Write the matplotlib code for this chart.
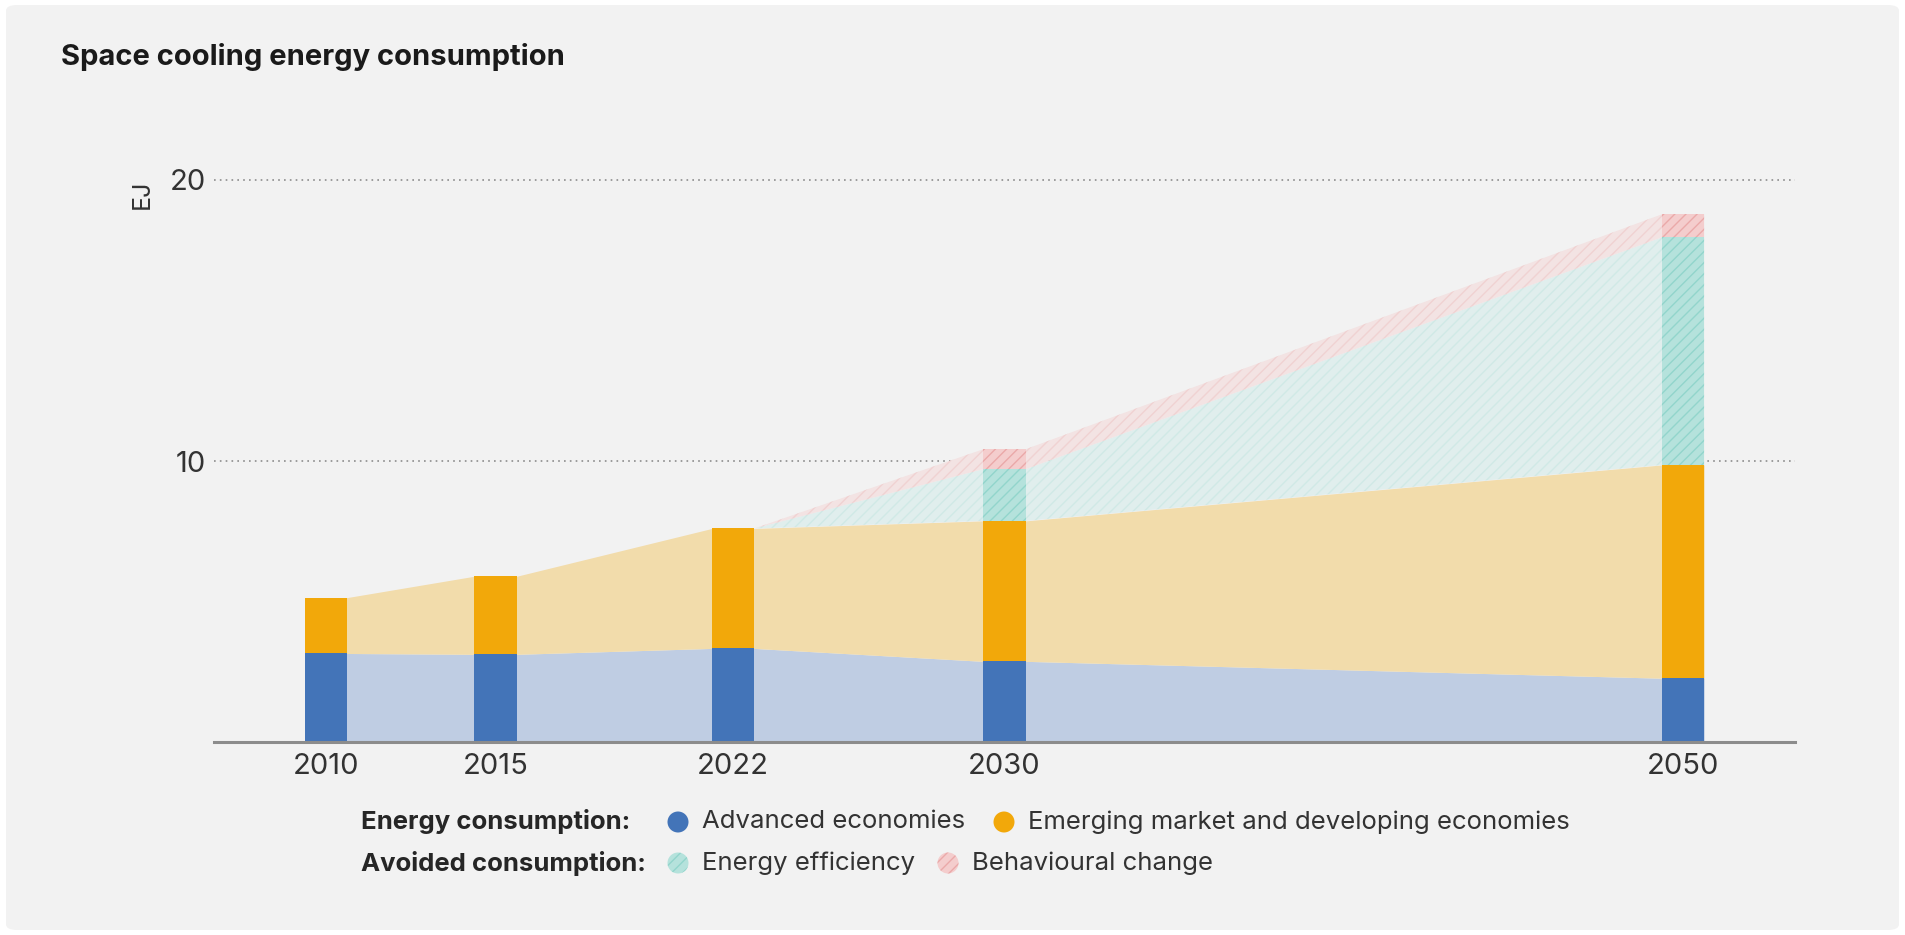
import matplotlib
matplotlib.use("Agg")
from matplotlib import pyplot
from matplotlib.patches import FancyBboxPatch, Circle
from matplotlib.transforms import IdentityTransform

years = [2010, 2015, 2022, 2030, 2050]
advanced = [3.15, 3.12, 3.33, 2.87, 2.27]
emerging = [1.99, 2.78, 4.27, 5.00, 7.59]
efficiency = [0.0, 0.0, 0.0, 1.84, 8.10]
behaviour = [0.0, 0.0, 0.0, 0.71, 0.82]
xtick_labels = ["2010", "2015", "2022", "2030", "2050"]
ytick_values = [10, 20]

FONT = ["Inter", "DejaVu Sans"]
pyplot.rcParams["font.family"] = FONT
pyplot.rcParams["hatch.linewidth"] = 1.0

W, H = 1906, 935
fig = pyplot.figure(figsize=(W / 100, H / 100), dpi=100, facecolor="white")
panel = FancyBboxPatch((6 / W, 5 / H), 1893 / W, 925 / H,
                       boxstyle="round,pad=0,rounding_size=0.006",
                       transform=fig.transFigure, facecolor="#f2f2f2",
                       edgecolor="none", zorder=0)
fig.add_artist(panel)

ax = fig.add_axes([214 / W, (H - 742) / H, (1795 - 214) / W, (742 - 180) / H])
ax.set_facecolor("none")

bw = 1.25
HATCH = "///"
adv_top = advanced
eme_top = [a + e for a, e in zip(advanced, emerging)]
eff_top = [t + f for t, f in zip(eme_top, efficiency)]
beh_top = [t + b for t, b in zip(eff_top, behaviour)]


def edges(vals, start=0):
    xs, ys = [], []
    for yr, v in zip(years[start:], vals[start:]):
        xs += [yr - bw / 2, yr + bw / 2]
        ys += [v, v]
    return xs, ys


# light shaded areas between the bars
xs, ys = edges(adv_top)
ax.fill_between(xs, 0, ys, color="#bfcde3", lw=0, zorder=1)
xs, ys2 = edges(eme_top)
ax.fill_between(xs, ys, ys2, color="#f2dcab", lw=0, zorder=1)
xa, lo = edges(eme_top, 2)
_, mid = edges(eff_top, 2)
_, hi = edges(beh_top, 2)
xa, lo, mid, hi = xa[1:], lo[1:], mid[1:], hi[1:]
ax.fill_between(xa, lo, mid, facecolor="#e0eeed", edgecolor="#d0e9e6",
                hatch=HATCH, lw=0, zorder=1)
ax.fill_between(xa, mid, hi, facecolor="#f3e3e3", edgecolor="#f0d2d2",
                hatch=HATCH, lw=0, zorder=1)

# bars
ax.bar(years, advanced, width=bw, color="#4374b8", zorder=3)
ax.bar(years, emerging, width=bw, bottom=advanced, color="#f2a80a", zorder=3)
for yr, b, v in zip(years, eme_top, efficiency):
    if v > 0:
        ax.bar(yr, v, width=bw, bottom=b, facecolor="#b5e2dc",
               edgecolor="#92d5cc", hatch=HATCH, lw=0, zorder=3)
for yr, b, v in zip(years, eff_top, behaviour):
    if v > 0:
        ax.bar(yr, v, width=bw, bottom=b, facecolor="#f4cdcd",
               edgecolor="#eaa9a9", hatch=HATCH, lw=0, zorder=3)

ax.set_xlim(2006.7, 2053.3)
ax.set_ylim(0, 20)
for spine in ["top", "right", "left"]:
    ax.spines[spine].set_visible(False)
ax.spines["bottom"].set_color("#8c8c8c")
ax.spines["bottom"].set_linewidth(2.2)
ax.spines["bottom"].set_zorder(5)
ax.set_xticks(years)
ax.set_xticklabels(xtick_labels, fontsize=21, color="#333333")
ax.set_yticks(ytick_values)
ax.set_yticklabels([str(v) for v in ytick_values], fontsize=21, color="#333333")
ax.tick_params(axis="both", length=0)
ax.tick_params(axis="x", pad=8)
ax.tick_params(axis="y", pad=6)
for v in ytick_values:
    ax.axhline(v, color="#8c8c8c", lw=1.2, ls=(0, (1, 2.5)), zorder=0.5,
               clip_on=False)

fig.text(142 / W, 1 - 194 / H, "EJ", rotation=90, fontsize=18, color="#333333",
         ha="center", va="center")
fig.text(61 / W, 1 - 57 / H, "Space cooling energy consumption", fontsize=21,
         fontweight="bold", color="#1a1a1a", ha="left", va="center")

# legend
ident = IdentityTransform()
rows = [822, 863]
fig.text(361 / W, 1 - rows[0] / H, "Energy consumption:", fontsize=18.5,
         fontweight="bold", color="#262626", va="center")
fig.text(361 / W, 1 - rows[1] / H, "Avoided consumption:", fontsize=18.5,
         fontweight="bold", color="#262626", va="center")
items = [
    (678, rows[0], "#4374b8", None, "Advanced economies"),
    (1004, rows[0], "#f2a80a", None, "Emerging market and developing economies"),
    (678, rows[1], "#b5e2dc", "#92d5cc", "Energy efficiency"),
    (948, rows[1], "#f4cdcd", "#eaa9a9", "Behavioural change"),
]
for x, y, fc, hc, label in items:
    c = Circle((x, H - y), 10.5, transform=ident, facecolor=fc,
               edgecolor=hc if hc else "none", hatch=HATCH if hc else None,
               lw=0)
    fig.add_artist(c)
    fig.text((x + 24) / W, 1 - y / H, label, fontsize=18.5, color="#333333",
             va="center")

fig.savefig("out.png", dpi=100, facecolor="white")
